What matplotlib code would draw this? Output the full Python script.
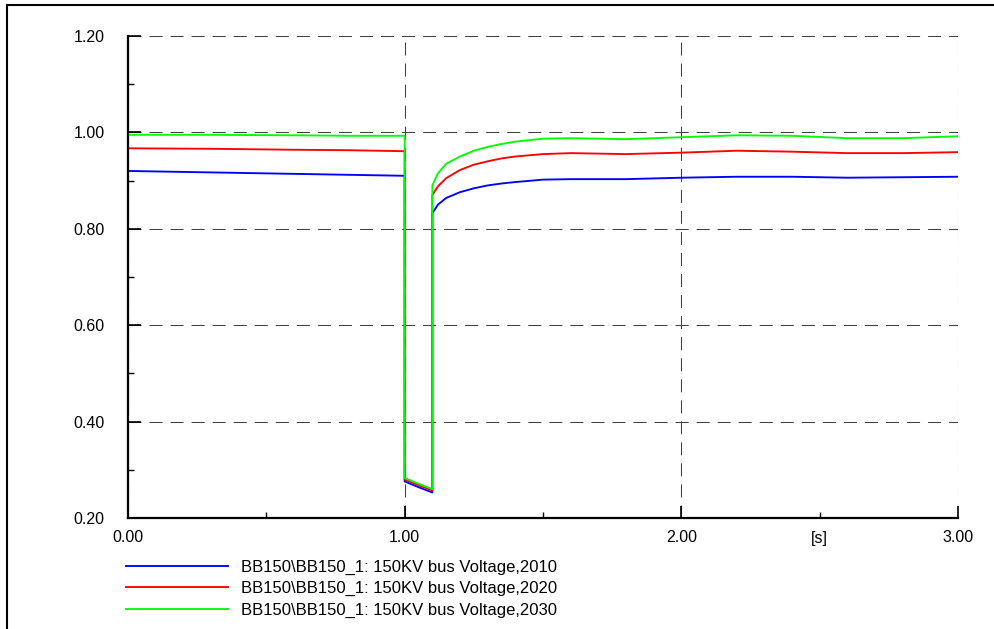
import matplotlib
matplotlib.use("Agg")
import matplotlib.pyplot as plt
from matplotlib.lines import Line2D
import numpy as np

plt.rcParams["font.family"] = ["Liberation Sans", "DejaVu Sans"]

# time [s], duplicated points at the fault start / clearing
t = [0.0, 0.3, 0.6, 0.8, 1.0, 1.0, 1.05, 1.1, 1.1, 1.12, 1.15, 1.2, 1.25,
     1.3, 1.35, 1.4, 1.5, 1.6, 1.8, 2.0, 2.2, 2.4, 2.6, 2.8, 3.0]

v_2010 = [0.920, 0.917, 0.914, 0.912, 0.910, 0.276, 0.264, 0.253, 0.832,
          0.850, 0.864, 0.876, 0.884, 0.890, 0.894, 0.897, 0.902, 0.903,
          0.903, 0.906, 0.908, 0.908, 0.906, 0.907, 0.908]
v_2020 = [0.967, 0.966, 0.964, 0.963, 0.961, 0.280, 0.268, 0.257, 0.870,
          0.888, 0.905, 0.922, 0.933, 0.940, 0.946, 0.950, 0.955, 0.957,
          0.955, 0.958, 0.962, 0.960, 0.957, 0.957, 0.959]
v_2030 = [0.995, 0.995, 0.994, 0.993, 0.993, 0.283, 0.271, 0.260, 0.890,
          0.915, 0.935, 0.950, 0.962, 0.970, 0.976, 0.981, 0.987, 0.988,
          0.986, 0.990, 0.994, 0.993, 0.988, 0.988, 0.992]

labels = ["BB150\\BB150_1: 150KV bus Voltage,2010",
          "BB150\\BB150_1: 150KV bus Voltage,2020",
          "BB150\\BB150_1: 150KV bus Voltage,2030"]
colors = ["#0000ff", "#ff0000", "#00ff00"]

x_major = [0, 1, 2, 3]
x_major_labels = ["0.00", "1.00", "2.00", "3.00"]
x_minor = [0.5, 1.5, 2.5]
x_minor_labels = ["", "", "[s]"]
y_major = [0.2, 0.4, 0.6, 0.8, 1.0, 1.2]

fig = plt.figure(figsize=(9.94, 6.29), dpi=100)
ax = fig.add_axes([128 / 994, 1 - 518 / 629, 830 / 994, 482 / 629])

for v, c, lab in zip([v_2010, v_2020, v_2030], colors, labels):
    ax.plot(t, v, color=c, lw=1.35, label=lab, zorder=3)

ax.set_xlim(0, 3)
ax.set_ylim(0.2, 1.2)
ax.set_xticks(x_major)
ax.set_xticklabels(x_major_labels)
ax.set_xticks(x_minor, minor=True)
ax.set_xticklabels(x_minor_labels, minor=True)
ax.set_yticks(y_major)
ax.set_yticklabels(["%.2f" % y for y in y_major])
ax.set_yticks(np.arange(0.3, 1.2, 0.2), minor=True)

ax.tick_params(axis="both", which="major", direction="in", length=9,
               width=1.2, labelsize=11.5, color="black")
ax.tick_params(axis="both", which="minor", direction="in", length=4,
               width=1.0, labelsize=11.5, color="black")
ax.tick_params(axis="y", which="both", pad=17)
ax.tick_params(axis="x", which="both", pad=9)

for side in ["top", "right"]:
    ax.spines[side].set_visible(False)
for side in ["left", "bottom"]:
    ax.spines[side].set_linewidth(1.6)
    ax.spines[side].set_zorder(4)

ax.grid(True, which="major", color="#404040", lw=0.75,
        linestyle=(0, (12.5, 7.7)))

fig.legend(loc="upper left", bbox_to_anchor=(126 / 994, 1 - 559.5 / 629),
           frameon=False, fontsize=12, handlelength=6.1, handletextpad=0.82,
           labelspacing=0.38, borderpad=0, borderaxespad=0)

# outer frame (left and top edges)
fig.add_artist(Line2D([7 / 994, 7 / 994], [0, 1 - 5 / 629],
                      transform=fig.transFigure, color="black", lw=1.5))
fig.add_artist(Line2D([7 / 994, 1], [1 - 5 / 629, 1 - 5 / 629],
                      transform=fig.transFigure, color="black", lw=1.5))

fig.savefig("out.png", dpi=100)
